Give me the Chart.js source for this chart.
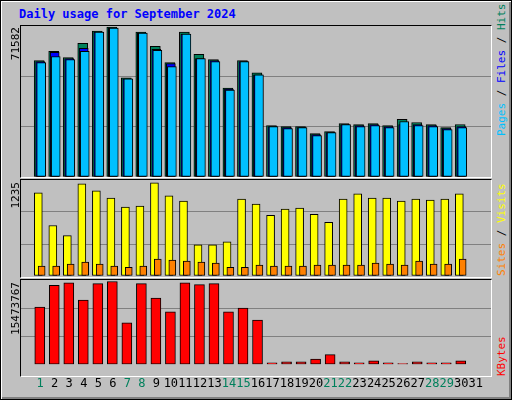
<!DOCTYPE html>
<html>
<head>
<meta charset="utf-8">
<script src="https://cdn.jsdelivr.net/npm/chart.js@4"></script>
<style>
  body { margin: 0; background: #fff; }
  #frame { position: absolute; left: 0; top: 0; width: 510px; height: 398px; background: #c0c0c0;
    border: 1px solid #000; box-shadow: inset 1px 1px 0 #fff, inset -2px -2px 0 #808080; }
  .panel { position: absolute; left: 20px; width: 470px; border-top: 1px solid #000; border-left: 1px solid #000;
    border-right: 1px solid #fff; border-bottom: 1px solid #fff; }
  canvas { position: absolute; }
  .t { position: absolute; font-family: "DejaVu Sans Mono", monospace; white-space: nowrap; }
  .vl { writing-mode: vertical-rl; transform: rotate(180deg); font-size: 11px; }
</style>
</head>
<body>
<div id="frame"></div>
<div class="t" style="left:19px;top:7px;font-size:12px;font-weight:bold;color:#0000ff">Daily usage for September 2024</div>
<div class="panel" style="top:25px;height:151px"></div>
<div class="panel" style="top:179px;height:97px"></div>
<div class="panel" style="top:279px;height:96px"></div>
<canvas id="c1" style="left:21px;top:26px"></canvas>
<canvas id="c2" style="left:21px;top:180px"></canvas>
<canvas id="c3" style="left:21px;top:280px"></canvas>
<div class="t vl" style="left:9px;top:27px;color:#000">71582</div>
<div class="t vl" style="left:9px;top:182px;color:#000">1235</div>
<div class="t vl" style="left:9px;top:282px;color:#000">15473767</div>
<div class="t vl" style="left:495px;top:28px;height:108px;text-align:left"><span style="color:#00c0ff">Pages</span> / <span style="color:#0000ff">Files</span> / <span style="color:#00805c">Hits</span></div>
<div class="t vl" style="left:495px;top:190px;height:86px;text-align:left"><span style="color:#ff8000">Sites</span> / <span style="color:#ffff00">Visits</span></div>
<div class="t vl" style="left:495px;top:330px;height:46px;text-align:left"><span style="color:#ff0000">KBytes</span></div>
<script>
const days = Array.from({length: 31}, (_, i) => i + 1);
const weekend = [1, 7, 8, 14, 15, 21, 22, 28, 29];

const hits = [55210, 59540, 56650, 63390, 69170, 71100, 47020, 68690, 61950, 54250, 68690, 58100, 55690, 42210, 55210,
  49430, 24400, 23910, 23910, 20540, 21510, 25360, 24880, 25360, 24400, 27280, 25840, 24880, 23430, 24880];
const files = [54730, 59060, 56170, 60990, 68690, 70620, 46540, 68210, 60500, 53760, 67730, 56170, 55210, 41730, 54730,
  48470, 23910, 23430, 23430, 20060, 21030, 24880, 24400, 24880, 23910, 24880, 24880, 24400, 22950, 23910];
const pages = [54250, 57140, 55690, 59550, 68690, 70620, 46540, 68210, 60030, 52320, 67730, 56170, 54730, 41250, 54730,
  48470, 23910, 22950, 23430, 19580, 21030, 24880, 23910, 24400, 23430, 26320, 24400, 23910, 22470, 23430];
const visits = [1069, 650, 519, 1187, 1095, 1004, 886, 899, 1200, 1030, 964, 401, 401, 441, 991,
  925, 781, 860, 873, 794, 690, 991, 1056, 1004, 1004, 964, 991, 978, 991, 1056];
const sites = [127, 127, 153, 179, 153, 127, 113, 127, 218, 205, 192, 179, 166, 113, 113,
  140, 127, 127, 127, 140, 140, 140, 140, 166, 153, 140, 192, 153, 153, 218];
const kbytes = [10540000, 14480000, 14970000, 11810000, 14810000, 15200000, 7650000, 14810000, 12150000, 9650000,
  14970000, 14640000, 14810000, 9650000, 10320000, 8150000, 330000, 500000, 500000, 1000000,
  1830000, 500000, 330000, 670000, 330000, 170000, 500000, 330000, 330000, 670000];
const maxHits = 71582, maxVisits = 1235, maxKB = 15473767;

function pts(values, shift) {
  return values.map((v, i) => ({ x: days[i] + shift, y: v }));
}
function ds(values, shift, color, width) {
  return { data: pts(values, shift), backgroundColor: color, borderColor: '#000', borderWidth: 1,
    borderSkipped: false, barThickness: width, grouped: false };
}
function opts(max, showX) {
  return {
    responsive: false, animation: false, events: [],
    layout: { padding: 0 },
    plugins: { legend: { display: false }, tooltip: { enabled: false } },
    scales: {
      x: { type: 'linear', min: 0.2, max: 31.53, display: showX,
        grid: { display: false }, border: { display: false },
        afterBuildTicks: s => { s.ticks = days.map(d => ({ value: d })); },
        ticks: { autoSkip: false, maxRotation: 0, padding: 4,
          font: { family: 'DejaVu Sans Mono', size: 12 },
          color: c => weekend.includes(c.tick.value) ? '#00805c' : '#000' } },
      y: { min: 0, max: max, border: { display: false },
        afterFit: s => { s.width = 0; },
        afterBuildTicks: s => { s.ticks = [0, max / 3, 2 * max / 3, max].map(v => ({ value: v })); },
        grid: { drawTicks: false, tickLength: 0, lineWidth: 1,
          color: c => (c.index === 1 || c.index === 2) ? '#808080' : 'rgba(0,0,0,0)' },
        ticks: { display: false } }
    }
  };
}
function make(id, w, h, datasets, max, showX) {
  const el = document.getElementById(id);
  el.width = w; el.height = h;
  return new Chart(el.getContext('2d'), { type: 'bar', data: { datasets }, options: opts(max, showX) });
}

make('c1', 470, 151, [
  ds(pages, 0.07, '#00c0ff', 9),
  ds(files, 0.0, '#0000ff', 9),
  ds(hits, -0.07, '#00805c', 10)
], maxHits, false);

make('c2', 470, 96, [
  ds(sites, 0.1, '#ff8000', 7),
  ds(visits, -0.13, '#ffff00', 8)
], maxVisits, false);

make('c3', 470, 115, [
  ds(kbytes, -0.03, '#ff0000', 10)
], maxKB, true);
</script>
</body>
</html>
